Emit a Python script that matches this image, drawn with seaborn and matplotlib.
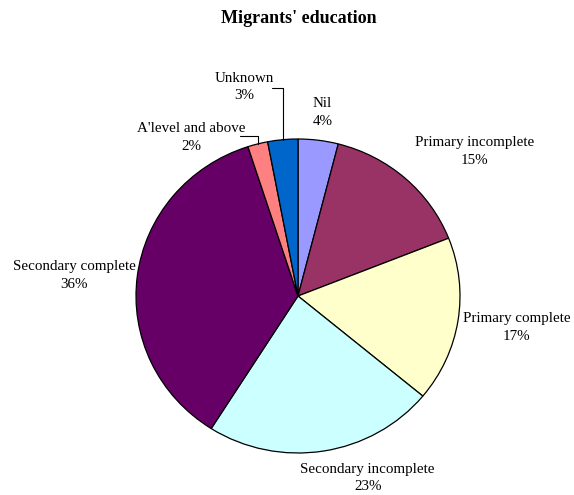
import numpy as np
import matplotlib.pyplot as plt
import seaborn as sns

# Data
categories = ["Nil", "Primary incomplete", "Primary complete", "Secondary incomplete",
              "Secondary complete", "A'level and above", "Unknown"]
shares = [4, 15, 17, 23, 36, 2, 3]
colors = ["#9999FF", "#993366", "#FFFFCC", "#CCFFFF", "#660066", "#FF8080", "#0066CC"]

# Label text positions (data coords, pie radius = 1)
label_xy = [(0.15, 1.17), (1.09, 0.92), (1.35, -0.20), (0.43, -1.16),
            (-1.38, 0.13), (-0.66, 1.01), (-0.33, 1.33)]
# small slices get an elbow leader line: (x where it leaves the label, y of the elbow)
leader = [None, None, None, None, None, (-0.36, 1.02), (-0.16, 1.325)]

sns.set_theme(style="white")
plt.rcParams['font.family'] = ['Liberation Serif', 'DejaVu Serif']
plt.rcParams['text.color'] = 'black'

fig = plt.figure(figsize=(5.74, 4.95), dpi=100)
ax = fig.add_axes([136 / 574, 42 / 495, 324 / 574, 314 / 495])

wedges, _ = ax.pie(shares, colors=colors, startangle=90, counterclock=False,
                   wedgeprops=dict(edgecolor="black", linewidth=0.9), frame=False)
ax.set_aspect("auto")
ax.set_xlim(-1, 1)
ax.set_ylim(-1, 1)

for w, cat, val, (tx, ty), lead in zip(wedges, categories, shares, label_xy, leader):
    ax.text(tx, ty, f"{cat}\n{val}%", ha="center", va="center", fontsize=10.8,
            linespacing=1.45, clip_on=False, color="black")
    if lead is not None:
        ang = np.deg2rad((w.theta1 + w.theta2) / 2)
        px, py = np.cos(ang), np.sin(ang)
        lx, ly = lead
        ax.plot([lx, px, px], [ly, ly, py], color="black", lw=0.8, clip_on=False)

fig.text(0.52, 0.962, "Migrants' education", ha="center", va="center",
         fontsize=13, fontweight="bold", color="black")

fig.savefig("out.png", dpi=100, facecolor="white")
